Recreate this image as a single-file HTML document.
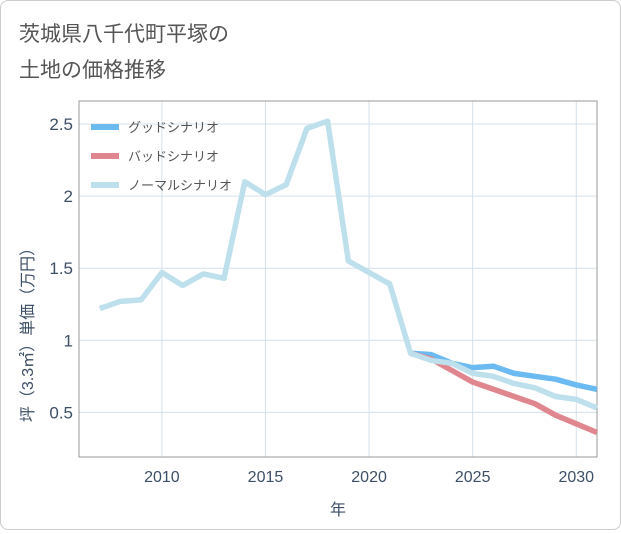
<!DOCTYPE html>
<html><head><meta charset="utf-8"><style>
body{margin:0;background:#fff}
#c{position:relative;width:619px;height:528px;border:1px solid #ccc;border-radius:8px;background:#fff;font-family:"Liberation Sans","Noto Sans CJK JP",sans-serif}
</style></head><body>
<div id="c">
<svg id="s" width="619" height="528"></svg>
</div>
<script>
const years=[2007,2008,2009,2010,2011,2012,2013,2014,2015,2016,2017,2018,2019,2020,2021,2022,2023,2024,2025,2026,2027,2028,2029,2030,2031];
const normal=[1.22,1.27,1.28,1.47,1.38,1.46,1.43,2.10,2.01,2.08,2.47,2.52,1.55,1.47,1.39,0.91,0.86,0.84,0.77,0.75,0.70,0.67,0.61,0.59,0.53];
const goodYears=[2022,2023,2024,2025,2026,2027,2028,2029,2030,2031];
const good=[0.91,0.90,0.84,0.81,0.82,0.77,0.75,0.73,0.69,0.66];
const bad=[0.91,0.87,0.79,0.71,0.66,0.61,0.56,0.48,0.42,0.36];
const xTicks=[2010,2015,2020,2025,2030];
const yTicks=[0.5,1,1.5,2,2.5];
const yTickLabels=["0.5","1","1.5","2","2.5"];
const NS="http://www.w3.org/2000/svg",s=document.getElementById('s');
const L=78,R=596,T=100,B=456;
const X=v=>L+(v-2006)/(2031-2006)*(R-L);
const Y=v=>B-(v-0.19)/(2.66-0.19)*(B-T);
function el(t,a,p){const e=document.createElementNS(NS,t);for(const k in a)e.setAttribute(k,a[k]);(p||s).appendChild(e);return e;}
function tx(x,y,str,a){const e=el('text',Object.assign({x:x,y:y,fill:'#3d4f66','font-size':16},a));e.textContent=str;return e;}
let t1=tx(18,40,'茨城県八千代町平塚の',{'font-size':21,fill:'#555'});
let t2=tx(18,76,'土地の価格推移',{'font-size':21,fill:'#555'});
xTicks.forEach(v=>{const g=el('line',{x1:X(v),x2:X(v),y1:T,y2:B,stroke:'#d5e1ea','stroke-width':1});
const l=tx(X(v),481,String(v),{'text-anchor':'middle'});});
yTicks.forEach((v,i)=>{const g=el('line',{x1:L,x2:R,y1:Y(v),y2:Y(v),stroke:'#d5e1ea','stroke-width':1});
const l=tx(72,Y(v)+6,yTickLabels[i],{'text-anchor':'end','font-size':17});});
const fr=el('rect',{x:L,y:T,width:R-L,height:B-T,fill:'none',stroke:'#999','stroke-width':1});
function line(xs,ys,c,n){const p=el('polyline',{points:xs.map((x,i)=>X(x)+','+Y(ys[i])).join(' '),fill:'none',stroke:c,'stroke-width':5.5,'stroke-linejoin':'round'});}
line(goodYears,good,'#6bbaf2','good-scenario-line');
line(goodYears,bad,'#e0868e','bad-scenario-line');
line(years,normal,'#bde0ec','normal-scenario-line');
const lg=[['グッドシナリオ','#6bbaf2'],['バッドシナリオ','#e0868e'],['ノーマルシナリオ','#bde0ec']];
lg.forEach((d,i)=>{const y=126+i*29;const r=el('line',{x1:90,x2:118,y1:y,y2:y,stroke:d[1],'stroke-width':6});
const t=tx(127,y+5,d[0],{'font-size':13,fill:'#555'});});
const xt=tx(337,514,'年',{'text-anchor':'middle'});
const yt=tx(0,0,'坪（3.3㎡）単価（万円）',{'text-anchor':'middle',transform:'translate(32,330) rotate(-90)'});
</script>
</body></html>
